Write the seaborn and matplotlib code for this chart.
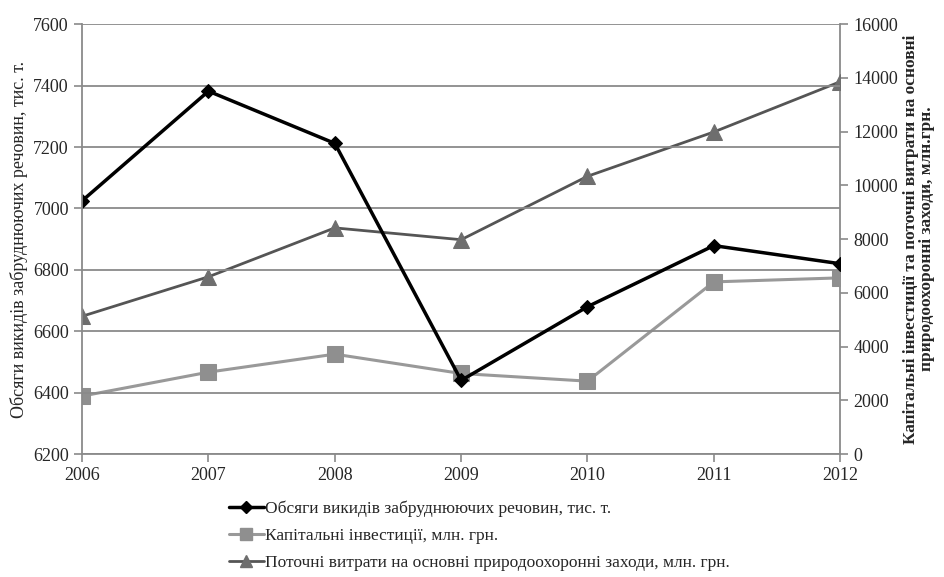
import pandas as pd
import matplotlib.pyplot as plt
import seaborn as sns
from matplotlib.lines import Line2D

# data
years = [2006, 2007, 2008, 2009, 2010, 2011, 2012]
emissions = [7025, 7382, 7212, 6440, 6680, 6879, 6820]        # left axis, тис. т.
capital_inv = [2160, 3050, 3720, 3000, 2715, 6410, 6560]      # right axis, млн. грн.
current_exp = [5130, 6600, 8420, 7980, 10340, 11990, 13860]   # right axis, млн. грн.

left_ticks = [6200, 6400, 6600, 6800, 7000, 7200, 7400, 7600]
right_ticks = [0, 2000, 4000, 6000, 8000, 10000, 12000, 14000, 16000]

label_em = "Обсяги викидів забруднюючих речовин, тис. т."
label_cap = "Капітальні інвестиції, млн. грн."
label_cur = "Поточні витрати на основні природоохоронні заходи, млн. грн."

sns.set_theme(style="white")
plt.rcParams['font.family'] = ['Liberation Serif', 'DejaVu Serif']

df = pd.DataFrame({"year": years, "em": emissions, "cap": capital_inv, "cur": current_exp})

fig = plt.figure(figsize=(9.44, 5.77), dpi=100)
ax = fig.add_axes([0.087, 0.213, 0.803, 0.745])
ax2 = ax.twinx()

grey = "#8a8a8a"
c_cap = "#999999"
c_cur = "#555555"

sns.lineplot(data=df, x="year", y="cur", ax=ax2, color=c_cur, lw=2, marker="^",
             markersize=11, markerfacecolor="#6e6e6e", markeredgecolor="#6e6e6e", zorder=3)
sns.lineplot(data=df, x="year", y="cap", ax=ax2, color=c_cap, lw=2.2, marker="s",
             markersize=11, markerfacecolor="#8f8f8f", markeredgecolor="#8f8f8f", zorder=3)
ax2.set_ylim(0, 16000)
ax2.set_yticks(right_ticks)

ax.set_zorder(ax2.get_zorder() + 1)
ax.patch.set_visible(False)
sns.lineplot(data=df, x="year", y="em", ax=ax, color="black", lw=2.5, marker="D",
             markersize=7, markerfacecolor="black", markeredgecolor="black")
ax.set_ylim(6200, 7600)
ax.set_yticks(left_ticks)
ax.set_xlim(2006, 2012)
ax.set_xticks(years)
ax.yaxis.grid(True, color=grey, lw=1.3)
ax.set_axisbelow(True)

for a in (ax, ax2):
    for s in a.spines.values():
        s.set_visible(False)
    a.tick_params(length=6, width=1.2, color=grey, labelsize=13, direction="out")
ax.spines["left"].set_visible(True)
ax.spines["bottom"].set_visible(True)
ax2.spines["right"].set_visible(True)
for s in (ax.spines["left"], ax.spines["bottom"], ax2.spines["right"]):
    s.set_color(grey)
    s.set_linewidth(1.3)
ax.tick_params(axis="y", left=True)
ax.tick_params(axis="x", bottom=True)
ax2.tick_params(axis="y", right=True)

ax.set_xlabel("")
ax.set_ylabel(label_em, fontsize=13)
ax2.set_ylabel("Капітальні інвестиції та поточні витрати на основні\nприродоохоронні заходи, млн.грн.",
               fontsize=12.5, fontweight="bold", linespacing=1.0)
ax2.yaxis.set_label_coords(1.083, 0.5)

handles = [
    Line2D([], [], color="black", lw=2.5, marker="D", markersize=6),
    Line2D([], [], color=c_cap, lw=2.2, marker="s", markersize=8, markerfacecolor="#8f8f8f", markeredgecolor="#8f8f8f"),
    Line2D([], [], color=c_cur, lw=2, marker="^", markersize=8, markerfacecolor="#6e6e6e", markeredgecolor="#6e6e6e"),
]
fig.legend(handles, [label_em, label_cap, label_cur], loc="upper left",
           bbox_to_anchor=(0.235, 0.145), frameon=False, fontsize=12.5,
           handlelength=2.0, handletextpad=0.1, labelspacing=0.62, borderaxespad=0)

fig.savefig("out.png", dpi=100)
